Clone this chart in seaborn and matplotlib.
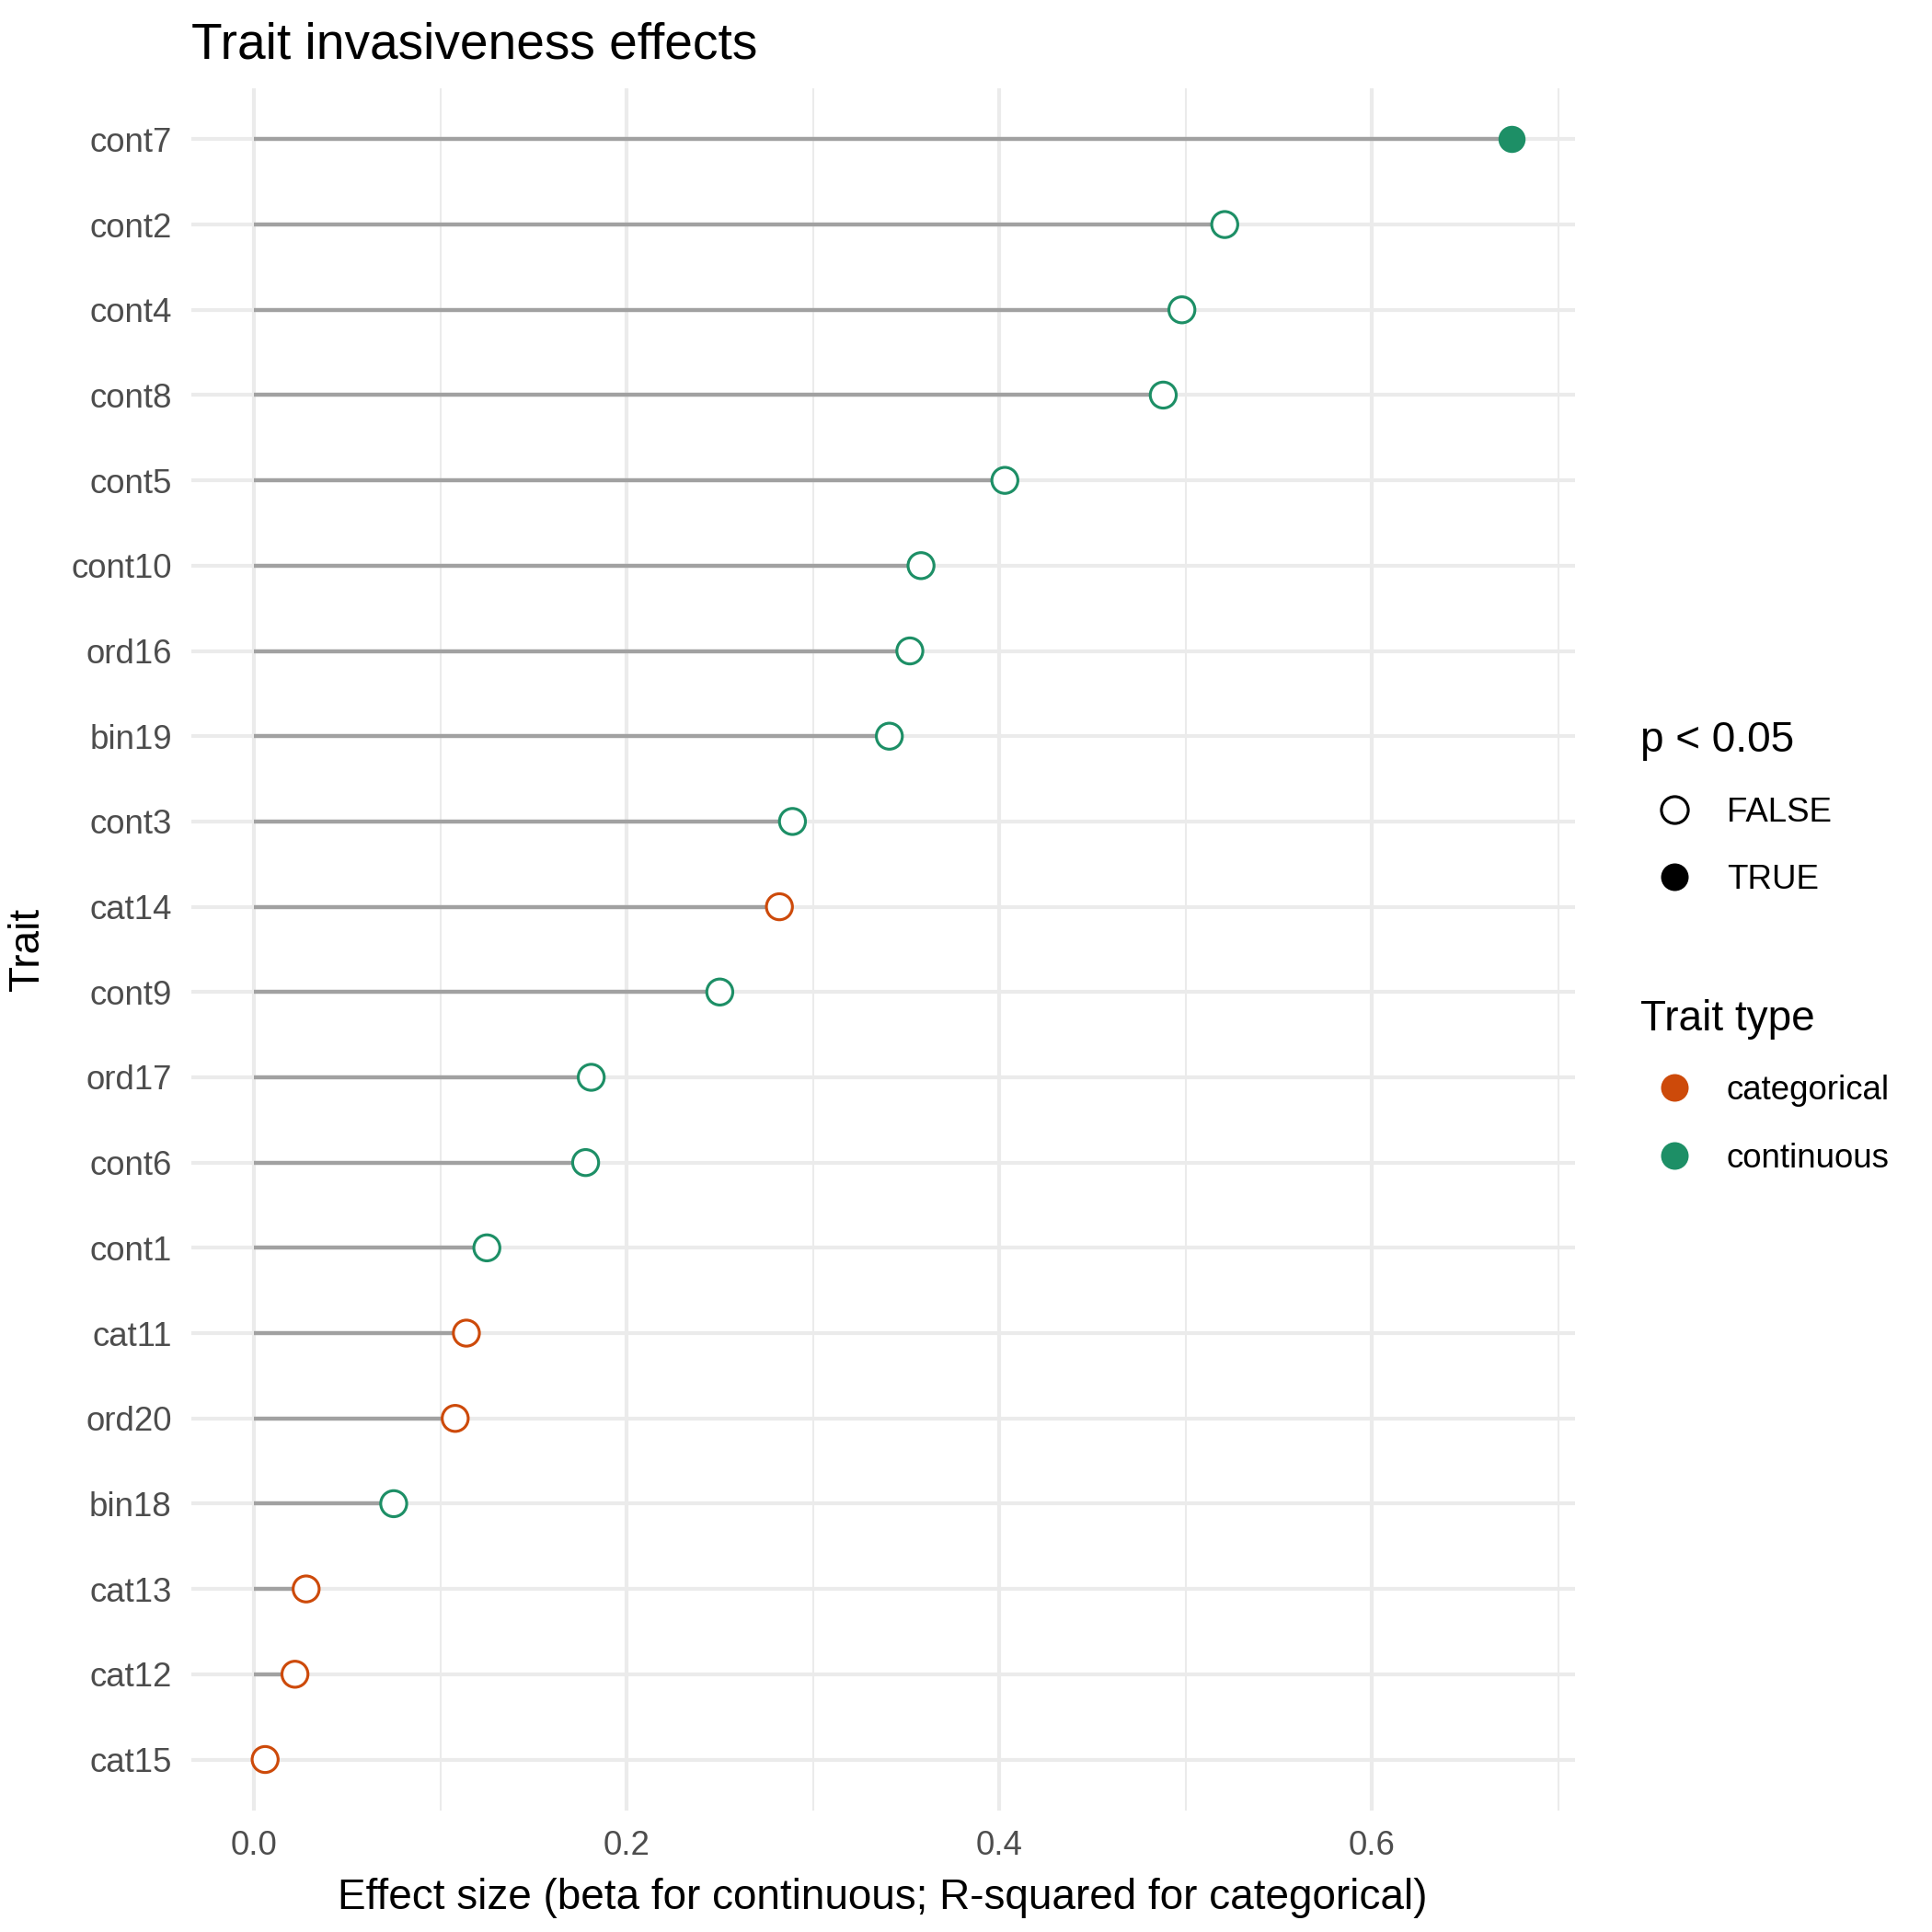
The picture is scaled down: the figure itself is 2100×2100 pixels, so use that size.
import matplotlib
matplotlib.use('Agg')
import matplotlib.pyplot as plt
from matplotlib.lines import Line2D
import numpy as np
import pandas as pd
import seaborn as sns


# values, top row first
traits = ['cont7', 'cont2', 'cont4', 'cont8', 'cont5', 'cont10', 'ord16', 'bin19',
          'cont3', 'cat14', 'cont9', 'ord17', 'cont6', 'cont1', 'cat11', 'ord20',
          'bin18', 'cat13', 'cat12', 'cat15']
effects = [0.675, 0.521, 0.498, 0.488, 0.403, 0.358, 0.352, 0.341,
           0.289, 0.282, 0.250, 0.181, 0.178, 0.125, 0.114, 0.108,
           0.075, 0.028, 0.022, 0.006]
trait_types = ['continuous', 'continuous', 'continuous', 'continuous', 'continuous',
               'continuous', 'continuous', 'continuous', 'continuous', 'categorical',
               'continuous', 'continuous', 'continuous', 'continuous', 'categorical',
               'categorical', 'continuous', 'categorical', 'categorical', 'categorical']
significant = [True] + [False] * 19

type_colors = {'categorical': '#CD4A0A', 'continuous': '#1D8F66'}

df = pd.DataFrame({'trait': traits, 'effect': effects,
                   'type': trait_types, 'sig': significant})

sns.set_style('white')
plt.rcParams['font.family'] = ['Liberation Sans', 'DejaVu Sans']
plt.rcParams['text.color'] = 'black'
plt.rcParams['axes.labelcolor'] = 'black'

fig = plt.figure(figsize=(7, 7), dpi=300)
ax = fig.add_axes([0.0989, 0.0628, 0.7161, 0.8916])

grid_col = '#EBEBEB'
# ggplot-ish grid
for v in [0.1, 0.3, 0.5, 0.7]:
    ax.axvline(v, color=grid_col, lw=0.5, zorder=0)
for v in [0.0, 0.2, 0.4, 0.6]:
    ax.axvline(v, color=grid_col, lw=1.0, zorder=0)

ax.hlines(df['trait'], -0.04, 0.72, color=grid_col, lw=1.0, zorder=0)
ax.hlines(df['trait'], 0, df['effect'], color='#A1A1A1', lw=1.05, zorder=1)

open_pts = df[~df['sig']]
filled_pts = df[df['sig']]

sns.scatterplot(data=open_pts, x='effect', y='trait', hue='type', palette=type_colors,
                s=46, linewidth=0.75, legend=False, ax=ax, zorder=3)
coll = ax.collections[-1]
coll.set_edgecolors(coll.get_facecolors())
coll.set_facecolors('white')

sns.scatterplot(data=filled_pts, x='effect', y='trait', hue='type', palette=type_colors,
                s=50, linewidth=0, legend=False, ax=ax, zorder=3)

ax.set_xlim(-0.03375, 0.70875)
ax.set_ylim(len(traits) - 0.4, -0.6)
ax.set_xticks([0.0, 0.2, 0.4, 0.6])
ax.set_xticklabels(['0.0', '0.2', '0.4', '0.6'])
ax.tick_params(axis='both', length=0, labelsize=8.8, labelcolor='#4D4D4D', pad=5)
for s in ax.spines.values():
    s.set_visible(False)

ax.set_xlabel('Effect size (beta for continuous; R-squared for categorical)', fontsize=11,
              labelpad=4)
ax.set_ylabel('Trait', fontsize=11, labelpad=6)
ax.set_title('Trait invasiveness effects', loc='left', fontsize=13.2, pad=7.7)

sig_handles = [Line2D([], [], marker='o', ls='', markersize=7, markerfacecolor='white',
                      markeredgecolor='black', markeredgewidth=0.75),
               Line2D([], [], marker='o', ls='', markersize=7.2, markerfacecolor='black',
                      markeredgecolor='black', markeredgewidth=0)]
leg1 = fig.legend(sig_handles, ['FALSE', 'TRUE'], title='p < 0.05', loc='upper left',
                  bbox_to_anchor=(0.842, 0.634), frameon=False, fontsize=8.8,
                  title_fontsize=11, alignment='left', handletextpad=0.56,
                  labelspacing=1.05, borderaxespad=0)

type_handles = [Line2D([], [], marker='o', ls='', markersize=7.2,
                       markerfacecolor=type_colors[k], markeredgewidth=0)
                for k in ['categorical', 'continuous']]
leg2 = fig.legend(type_handles, ['categorical', 'continuous'], title='Trait type',
                  loc='upper left', bbox_to_anchor=(0.842, 0.490), frameon=False,
                  fontsize=8.8, title_fontsize=11, alignment='left', handletextpad=0.56,
                  labelspacing=1.05, borderaxespad=0)

fig.savefig('out.png', dpi=300, facecolor='white')
